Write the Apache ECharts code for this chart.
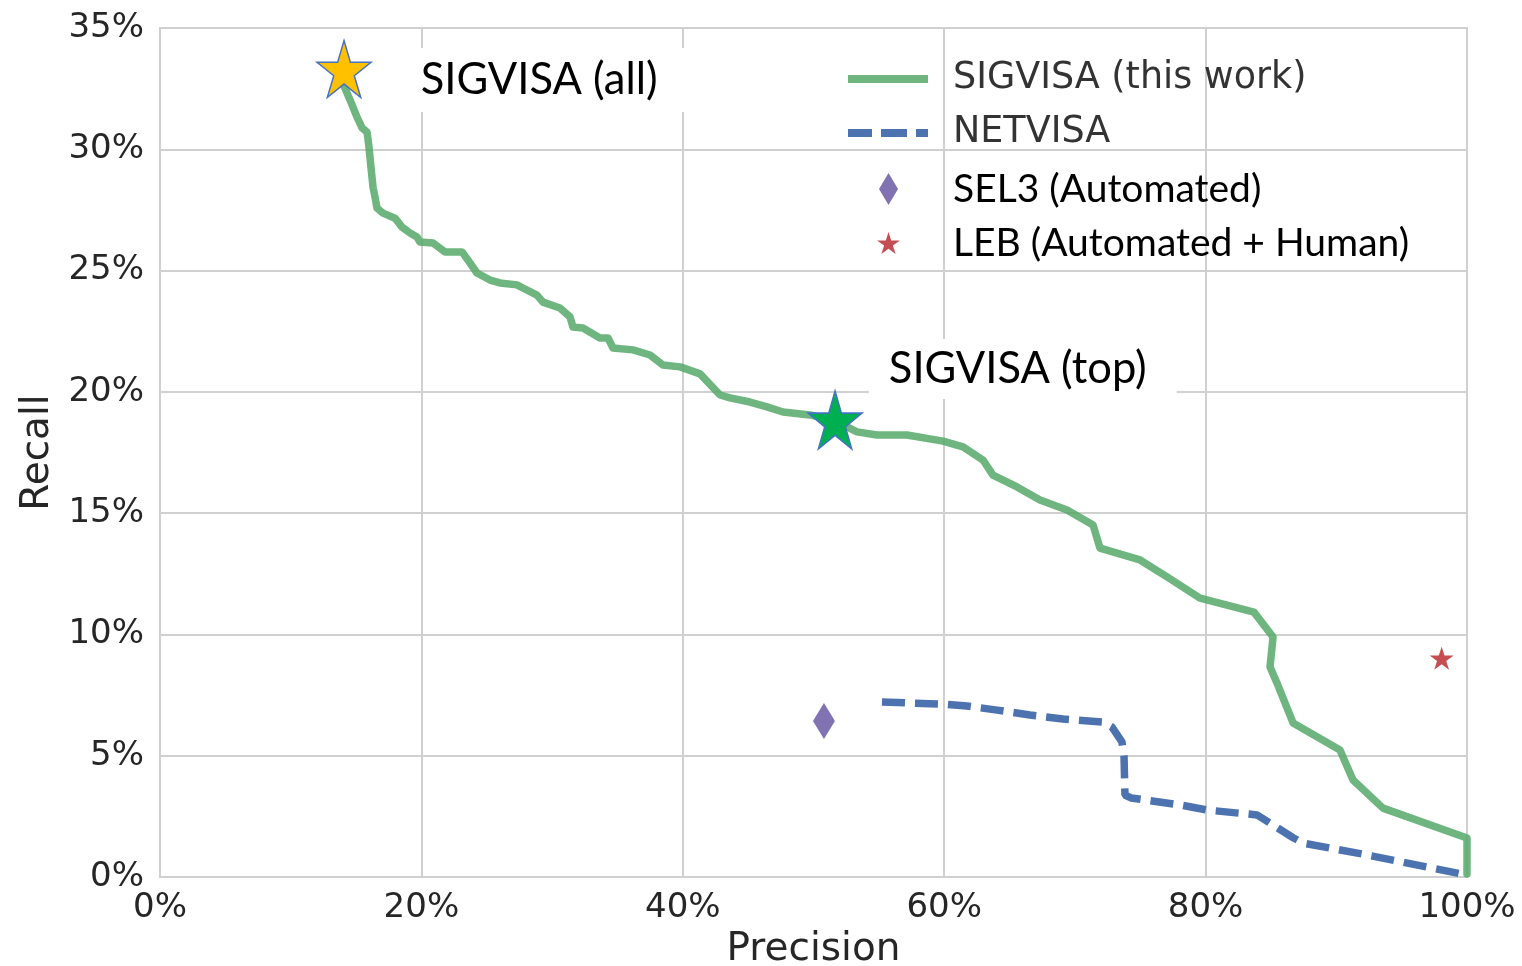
<!DOCTYPE html>
<html><head><meta charset="utf-8">
<script src="https://cdn.jsdelivr.net/npm/echarts@6/dist/echarts.min.js"></script>
<style>html,body{margin:0;padding:0;background:#fff}#c{width:1522px;height:966px}</style>
</head><body><div id="c"></div>
<script>
// ---- data ----
const xTicks = [0, 20, 40, 60, 80, 100];
const xTickLabels = ['0%', '20%', '40%', '60%', '80%', '100%'];
const yTicks = [0, 5, 10, 15, 20, 25, 30, 35];
const yTickLabels = ['0%', '5%', '10%', '15%', '20%', '25%', '30%', '35%'];

const sigvisaPrecision = [14.08, 14.54, 15.07, 15.46, 15.84, 15.99, 16.14, 16.30, 16.45, 16.60, 17.06, 17.98, 18.52, 19.13, 19.66, 19.89, 20.89, 21.81, 23.11, 23.72, 24.25, 25.25, 26.01, 27.31, 27.77, 28.84, 29.30, 30.60, 31.37, 31.60, 32.36, 33.66, 34.28, 34.66, 36.19, 37.49, 38.48, 39.79, 41.32, 42.85, 43.61, 45.14, 46.44, 47.67, 49.73, 51.65, 53.33, 54.86, 57.15, 59.91, 61.44, 62.97, 63.73, 65.57, 67.33, 69.40, 71.39, 71.92, 74.98, 77.05, 79.57, 83.70, 85.16, 84.93, 85.46, 86.69, 90.28, 91.28, 93.57, 100, 100];
const sigvisaRecall = [32.61, 32.03, 31.33, 30.88, 30.71, 30.09, 29.26, 28.43, 28.03, 27.58, 27.37, 27.16, 26.79, 26.55, 26.38, 26.18, 26.14, 25.77, 25.77, 25.31, 24.90, 24.61, 24.49, 24.41, 24.28, 23.99, 23.70, 23.46, 23.09, 22.67, 22.63, 22.22, 22.22, 21.81, 21.73, 21.52, 21.11, 21.03, 20.74, 19.87, 19.75, 19.58, 19.38, 19.17, 19.05, 18.80, 18.35, 18.22, 18.22, 17.97, 17.73, 17.19, 16.57, 16.08, 15.54, 15.13, 14.51, 13.56, 13.07, 12.37, 11.50, 10.92, 9.89, 8.66, 8.00, 6.35, 5.24, 4.00, 2.84, 1.61, 0.12];

const netvisaPrecision = [55.24, 57.61, 59.91, 61.74, 64.04, 66.56, 69.09, 72.15, 72.84, 73.60, 73.76, 73.83, 74.29, 78.04, 80.11, 83.93, 86.70, 87.45, 92.35, 100];
const netvisaRecall = [7.21, 7.17, 7.13, 7.05, 6.88, 6.68, 6.51, 6.39, 6.18, 5.57, 4.95, 3.38, 3.26, 2.97, 2.76, 2.56, 1.62, 1.40, 0.91, 0.08];

const sel3Point = [50.80, 6.43];
const lebPoint = [98.06, 9.02];
const sigvisaAllPoint = [14.08, 33.31];
const sigvisaTopPoint = [51.65, 18.84];

const seriesNames = ['SIGVISA (this work)', 'NETVISA', 'SEL3 (Automated)', 'LEB (Automated + Human)'];
const annotationNames = ['SIGVISA (all)', 'SIGVISA (top)'];

// ---- build ----
const zip = (a, b) => a.map((v, i) => [v, b[i]]);
const STAR = 'path://M0,-1L0.2245,-0.309L0.951,-0.309L0.363,0.118L0.588,0.809L0,0.382L-0.588,0.809L-0.363,0.118L-0.951,-0.309L-0.2245,-0.309Z';
const DIAMOND = 'path://M0,-1L0.6,0L0,1L-0.6,0Z';
const SOLID_ICON = 'path://M0,0L80,0L80,8L0,8Z';
const DASH_ICON = 'path://M0,0L24,0L24,8L0,8Z M33,0L59,0L59,8L33,8Z M68,0L80,0L80,8L68,8Z';
const GREEN = '#55A868', BLUE = '#4C72B0', PURPLE = '#8172B2', RED = '#C44E52';
const tickFmt = (ticks, labels) => v => { const i = ticks.indexOf(v); return i >= 0 ? labels[i] : ''; };
const axisFont = { fontFamily: 'DejaVu Sans', fontSize: 34, color: '#262626' };
const calibriLike = 'Lato';

const chart = echarts.init(document.getElementById('c'), null, { renderer: 'canvas' });
chart.setOption({
  animation: false,
  backgroundColor: '#fff',
  grid: { left: 160, right: 55, top: 28, bottom: 89, show: true, borderColor: '#d0d0d0', borderWidth: 2, outerBoundsMode: 'none', containLabel: false },
  xAxis: {
    type: 'value', min: xTicks[0], max: xTicks[xTicks.length - 1], interval: 20,
    name: 'Precision', nameLocation: 'middle', nameGap: 50,
    nameTextStyle: { fontFamily: 'DejaVu Sans', fontSize: 39, color: '#262626' },
    axisLine: { show: true, lineStyle: { color: '#d0d0d0', width: 2 } },
    axisTick: { show: false },
    axisLabel: Object.assign({ margin: 14, formatter: tickFmt(xTicks, xTickLabels) }, axisFont),
    splitLine: { show: true, lineStyle: { color: '#d0d0d0', width: 2 } }
  },
  yAxis: {
    type: 'value', min: yTicks[0], max: yTicks[yTicks.length - 1], interval: 5,
    name: 'Recall', nameLocation: 'middle', nameGap: 98,
    nameTextStyle: { fontFamily: 'DejaVu Sans', fontSize: 39, color: '#262626' },
    axisLine: { show: true, lineStyle: { color: '#d0d0d0', width: 2 } },
    axisTick: { show: false },
    axisLabel: Object.assign({ margin: 16, formatter: tickFmt(yTicks, yTickLabels) }, axisFont),
    splitLine: { show: true, lineStyle: { color: '#d0d0d0', width: 2 } }
  },
  legend: [
    {
      data: [
        { name: seriesNames[0], icon: SOLID_ICON, itemStyle: { color: GREEN, opacity: 0.85 } },
        { name: seriesNames[1], icon: DASH_ICON, itemStyle: { color: BLUE, opacity: 1 } }
      ],
      orient: 'vertical', left: 848, top: 59, padding: 0,
      itemWidth: 80, itemHeight: 8, itemGap: 14, selectedMode: false,
      textStyle: { fontFamily: 'DejaVu Sans', fontSize: 36.5, color: '#333', lineHeight: 40, padding: [0, 0, 0, 20] }
    },
    {
      data: [{ name: seriesNames[2], icon: DIAMOND, itemStyle: { opacity: 1 } }], orient: 'vertical', left: 879, top: 169, padding: 0,
      itemWidth: 19, itemHeight: 32, symbolKeepAspect: false, selectedMode: false,
      textStyle: { fontFamily: calibriLike, fontSize: 39, color: '#000', lineHeight: 40, padding: [0, 0, 0, 50] }
    },
    {
      data: [{ name: seriesNames[3], icon: STAR, itemStyle: { opacity: 1 } }], orient: 'vertical', left: 877, top: 223, padding: 0,
      itemWidth: 23, itemHeight: 22, symbolKeepAspect: false, selectedMode: false,
      textStyle: { fontFamily: calibriLike, fontSize: 39, color: '#000', lineHeight: 40, padding: [0, 0, 0, 48] }
    }
  ],
  series: [
    {
      name: seriesNames[0], type: 'line', data: zip(sigvisaPrecision, sigvisaRecall),
      symbol: 'none', lineStyle: { color: GREEN, width: 7.5, opacity: 0.85, join: 'round', cap: 'round' }, itemStyle: { color: GREEN }, z: 3
    },
    {
      name: seriesNames[1], type: 'line', data: zip(netvisaPrecision, netvisaRecall),
      symbol: 'none', lineStyle: { color: BLUE, width: 7.5, type: [23, 10] }, itemStyle: { color: BLUE }, z: 3
    },
    {
      name: seriesNames[2], type: 'scatter', data: [sel3Point], symbol: DIAMOND, symbolSize: [22, 36],
      itemStyle: { color: PURPLE, opacity: 1 }, z: 4
    },
    {
      name: seriesNames[3], type: 'scatter', data: [lebPoint], symbol: STAR, symbolSize: [24, 23],
      itemStyle: { color: RED, opacity: 1 }, z: 4
    },
    {
      name: annotationNames[0], type: 'scatter', data: [sigvisaAllPoint], symbol: STAR, symbolSize: [54, 57],
      itemStyle: { color: '#FFC000', borderColor: '#4472C4', borderWidth: 1.5, opacity: 1 }, z: 5,
      label: {
        show: true, position: 'right', distance: 29, offset: [0, 11], formatter: annotationNames[0],
        fontFamily: calibriLike, fontSize: 43.5, color: '#000', backgroundColor: '#fff', padding: [10, 35, 10, 20]
      }
    },
    {
      name: annotationNames[1], type: 'scatter', data: [sigvisaTopPoint], symbol: STAR, symbolSize: [54, 58],
      itemStyle: { color: '#00B050', borderColor: '#4472C4', borderWidth: 1.5, opacity: 1 }, z: 5,
      label: {
        show: true, position: 'right', distance: 6, offset: [0, -51], formatter: annotationNames[1],
        fontFamily: calibriLike, fontSize: 43.5, color: '#000', backgroundColor: '#fff', padding: [8, 30, 8, 20]
      }
    }
  ]
});
</script>
</body></html>
